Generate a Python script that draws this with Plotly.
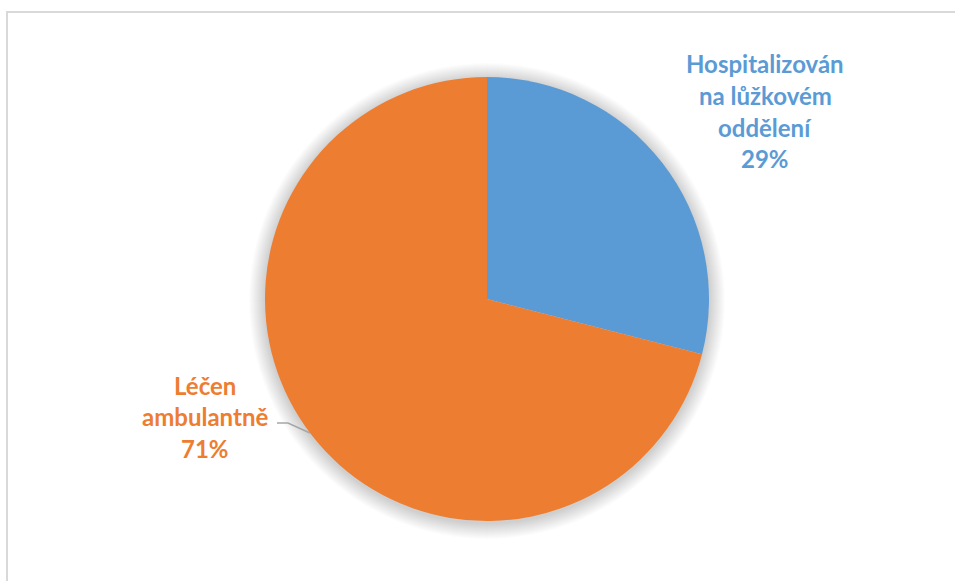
import plotly.graph_objects as go

# Share of patients by type of care
labels = ["Hospitalizován na lůžkovém oddělení", "Léčen ambulantně"]
label_lines = [["Hospitalizován", "na lůžkovém", "oddělení"], ["Léčen", "ambulantně"]]
values = [29, 71]
colors = ["#5B9BD5", "#ED7D31"]

W, H = 955, 581
cx, cy, r = 487, 299, 222


def px(x):
    return x / W


def py(y):
    return 1 - y / H


fig = go.Figure(go.Pie(
    labels=labels,
    values=values,
    sort=False,
    direction="clockwise",
    rotation=0,
    marker=dict(colors=colors, line=dict(width=0)),
    textinfo="none",
    hoverinfo="label+percent",
    showlegend=False,
    domain=dict(x=[px(cx - r), px(cx + r)], y=[py(cy + r), py(cy - r)]),
))

shapes = []
# soft shadow behind the pie
for i in range(16, 0, -1):
    rr = r + i
    oy = 2
    shapes.append(dict(
        type="circle", xref="paper", yref="paper", layer="below",
        x0=px(cx - rr), x1=px(cx + rr), y0=py(cy + oy + rr), y1=py(cy + oy - rr),
        fillcolor="rgba(0,0,0,0.012)", line=dict(width=0),
    ))

# chart area border
shapes.append(dict(
    type="rect", xref="paper", yref="paper", layer="below",
    x0=px(7), x1=px(W + 10), y0=py(H + 10), y1=py(12),
    line=dict(color="#D9D9D9", width=2), fillcolor="rgba(0,0,0,0)",
))

# leader line for the outer-left label
shapes.append(dict(
    type="path", xref="paper", yref="paper",
    path=f"M {px(277)},{py(423)} L {px(288)},{py(423)} L {px(310)},{py(433)}",
    line=dict(color="#A6A6A6", width=1.5),
))

total = sum(values)
label_specs = [
    (0, 765, [62, 94, 126, 157]),
    (1, 205, [384, 415, 447]),
]
annotations = []
for idx, x, ys in label_specs:
    lines = label_lines[idx] + [f"{round(100 * values[idx] / total)}%"]
    for text, y in zip(lines, ys):
        annotations.append(dict(
            x=px(x), y=py(y + 1), xref="paper", yref="paper",
            text=f"<b>{text}</b>", showarrow=False,
            xanchor="center", yanchor="middle",
            font=dict(family="Lato", size=24, color=colors[idx]),
        ))

fig.update_layout(
    width=W, height=H,
    margin=dict(l=0, r=0, t=0, b=0),
    paper_bgcolor="white", plot_bgcolor="white",
    shapes=shapes, annotations=annotations,
)

fig.write_html("out.html")
